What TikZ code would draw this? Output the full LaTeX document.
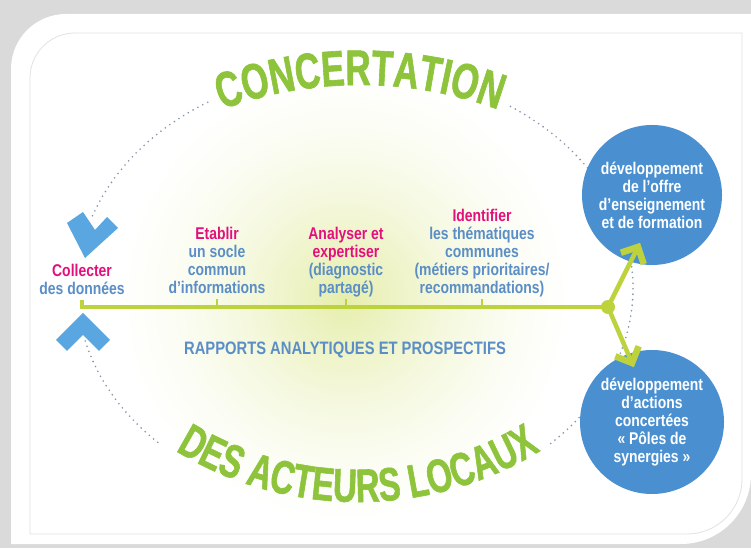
\documentclass[tikz,border=0pt]{standalone}
\usepackage{fontspec}
\setmainfont{Liberation Sans}
\newfontfamily\cond[FakeStretch=0.82]{Liberation Sans}
\newfontfamily\bigcond[FakeStretch=0.70,FakeBold=1.2]{Liberation Sans}
\usetikzlibrary{decorations.text,calc}
\definecolor{mag}{HTML}{E3107C}
\definecolor{tblue}{HTML}{5B8EC6}
\definecolor{cblue}{HTML}{4A90D0}
\definecolor{chev}{HTML}{5AA6E0}
\definecolor{lgreen}{HTML}{BDD23C}
\definecolor{tgreen}{HTML}{8DC43C}
\definecolor{dotc}{HTML}{8494A8}
\definecolor{bgray}{HTML}{DADADA}
\definecolor{bline}{HTML}{E2E2E2}
\definecolor{glowc}{HTML}{D6E47A}
\colorlet{glowA}{glowc!62!white}
\colorlet{glowB}{glowc!45!white}
\colorlet{glowC}{glowc!26!white}
\colorlet{glowD}{glowc!10!white}
\pgfdeclareradialshading{glowshade}{\pgfpoint{0bp}{0bp}}{color(0bp)=(glowA); color(5bp)=(glowB); color(11bp)=(glowC); color(18bp)=(glowD); color(25bp)=(white); color(50bp)=(white)}
\tikzset{
 tnode/.style={align=center, text=tblue, font=\cond\bfseries\fontsize{17}{18}\selectfont, inner sep=0pt},
 bcirc/.style={circle, fill=cblue, text=white, align=center, inner sep=0pt, font=\cond\bfseries\fontsize{17}{18}\selectfont},
 gline/.style={draw=lgreen, line width=4.5pt},
 ghead/.style={draw=lgreen, line width=6.5pt, line join=miter, miter limit=10},
 dotline/.style={draw=dotc, line width=1.8pt, line cap=round, dash pattern=on 0pt off 5.5pt},
 tickmark/.style={draw=lgreen, line width=2pt},
 chevron/.style={fill=chev},
 jdot/.style={circle, fill=lgreen, minimum size=14pt, inner sep=0pt},
}
\begin{document}
\begin{tikzpicture}[x=1pt,y=1pt]
\useasboundingbox (0,0) rectangle (751,548);
% background and card
\fill[bgray] (0,0) rectangle (751,548);
\fill[white] (11,4) -- (11,479) arc[start angle=180,end angle=90,radius=55] -- (751,534) -- (751,74) arc[start angle=0,end angle=-90,radius=70] -- cycle;
\draw[bline, line width=0.8pt] (30,14) -- (30,470) arc[start angle=180,end angle=90,radius=45] -- (742,515) -- (742,69) arc[start angle=0,end angle=-90,radius=55] -- cycle;
% glow
\shade[shading=glowshade] (345,250) circle (225);
% dotted loop
\coordinate (E) at (355,260);
\draw[dotline] ($(E)+(122:278 and 219)$) arc[start angle=122,end angle=162,x radius=278,y radius=219];
\draw[dotline] ($(E)+(56:278 and 219)$) arc[start angle=56,end angle=-46,x radius=278,y radius=219];
\draw[dotline] ($(E)+(194:278 and 219)$) arc[start angle=194,end angle=226,x radius=278,y radius=219];
% curved titles
\path[decorate, decoration={text along path, text align=center,
  text={|\bigcond\bfseries\fontsize{50}{50}\selectfont\color{tgreen}|CONCERTATION}}]
  (360,63) ++(125:400) arc[start angle=125,end angle=55,radius=400];
\path[decorate, decoration={text along path, text align=center,
  text={|\bigcond\bfseries\fontsize{47}{47}\selectfont\color{tgreen}|DES ACTEURS LOCAUX}}]
  (358,396) ++(230:350) arc[start angle=230,end angle=310,radius=350];
% chevrons
\fill[chevron] (85,290) -- (67,325) -- (83,336) -- (95,318) -- (107,331) -- (118,320) -- cycle;
\fill[chevron] (83,235) -- (110,208) -- (99,197) -- (83,213) -- (67,197) -- (56,208) -- cycle;
% circles
\node[bcirc, minimum size=140pt] (C1) at (652,353) {développement\\de l’offre\\d’enseignement\\et de formation};
\node[bcirc, minimum size=144pt] (C2) at (652,126) {développement\\d’actions\\concertées\\«~Pôles de\\synergies~»};
% timeline
\node[jdot] (J) at (608,241) {};
\coordinate (L0) at (82,248);
\coordinate (L1) at (82,241);
\draw[gline] (L0) -- (L1) -- (J.center);
\coordinate (K1) at (217,241); \coordinate (K1t) at (217,249);
\coordinate (K2) at (346,241); \coordinate (K2t) at (346,249);
\coordinate (K3) at (482,241); \coordinate (K3t) at (482,249);
\draw[tickmark] (K1) -- (K1t);
\draw[tickmark] (K2) -- (K2t);
\draw[tickmark] (K3) -- (K3t);
% arrows to circles
\coordinate (T1) at (638,301);
\coordinate (T2) at (632,185);
\draw[gline] (J.center) -- (T1);
\draw[gline] (J.center) -- (T2);
\draw[ghead] ($(T1)!18pt!45:(J)$) -- (T1) -- ($(T1)!18pt!-45:(J)$);
\draw[ghead] ($(T2)!18pt!45:(J)$) -- (T2) -- ($(T2)!18pt!-45:(J)$);
% labels
\node[tnode, anchor=north] (collect) at (82,284.5) {\textcolor{mag}{Collecter}\\des données};
\node[tnode, anchor=north] (etablir) at (217,321) {\textcolor{mag}{Etablir}\\un socle\\commun\\d’informations};
\node[tnode, anchor=north] (analyser) at (346,321) {\textcolor{mag}{Analyser et}\\\textcolor{mag}{expertiser}\\(diagnostic\\partagé)};
\node[tnode, anchor=north] (identifier) at (482,339) {\textcolor{mag}{Identifier}\\les thématiques\\communes\\(métiers prioritaires/\\recommandations)};
\node[tnode, font=\cond\bfseries\fontsize{18}{18}\selectfont] (rap) at (345,198) {RAPPORTS ANALYTIQUES ET PROSPECTIFS};
\end{tikzpicture}
\end{document}
